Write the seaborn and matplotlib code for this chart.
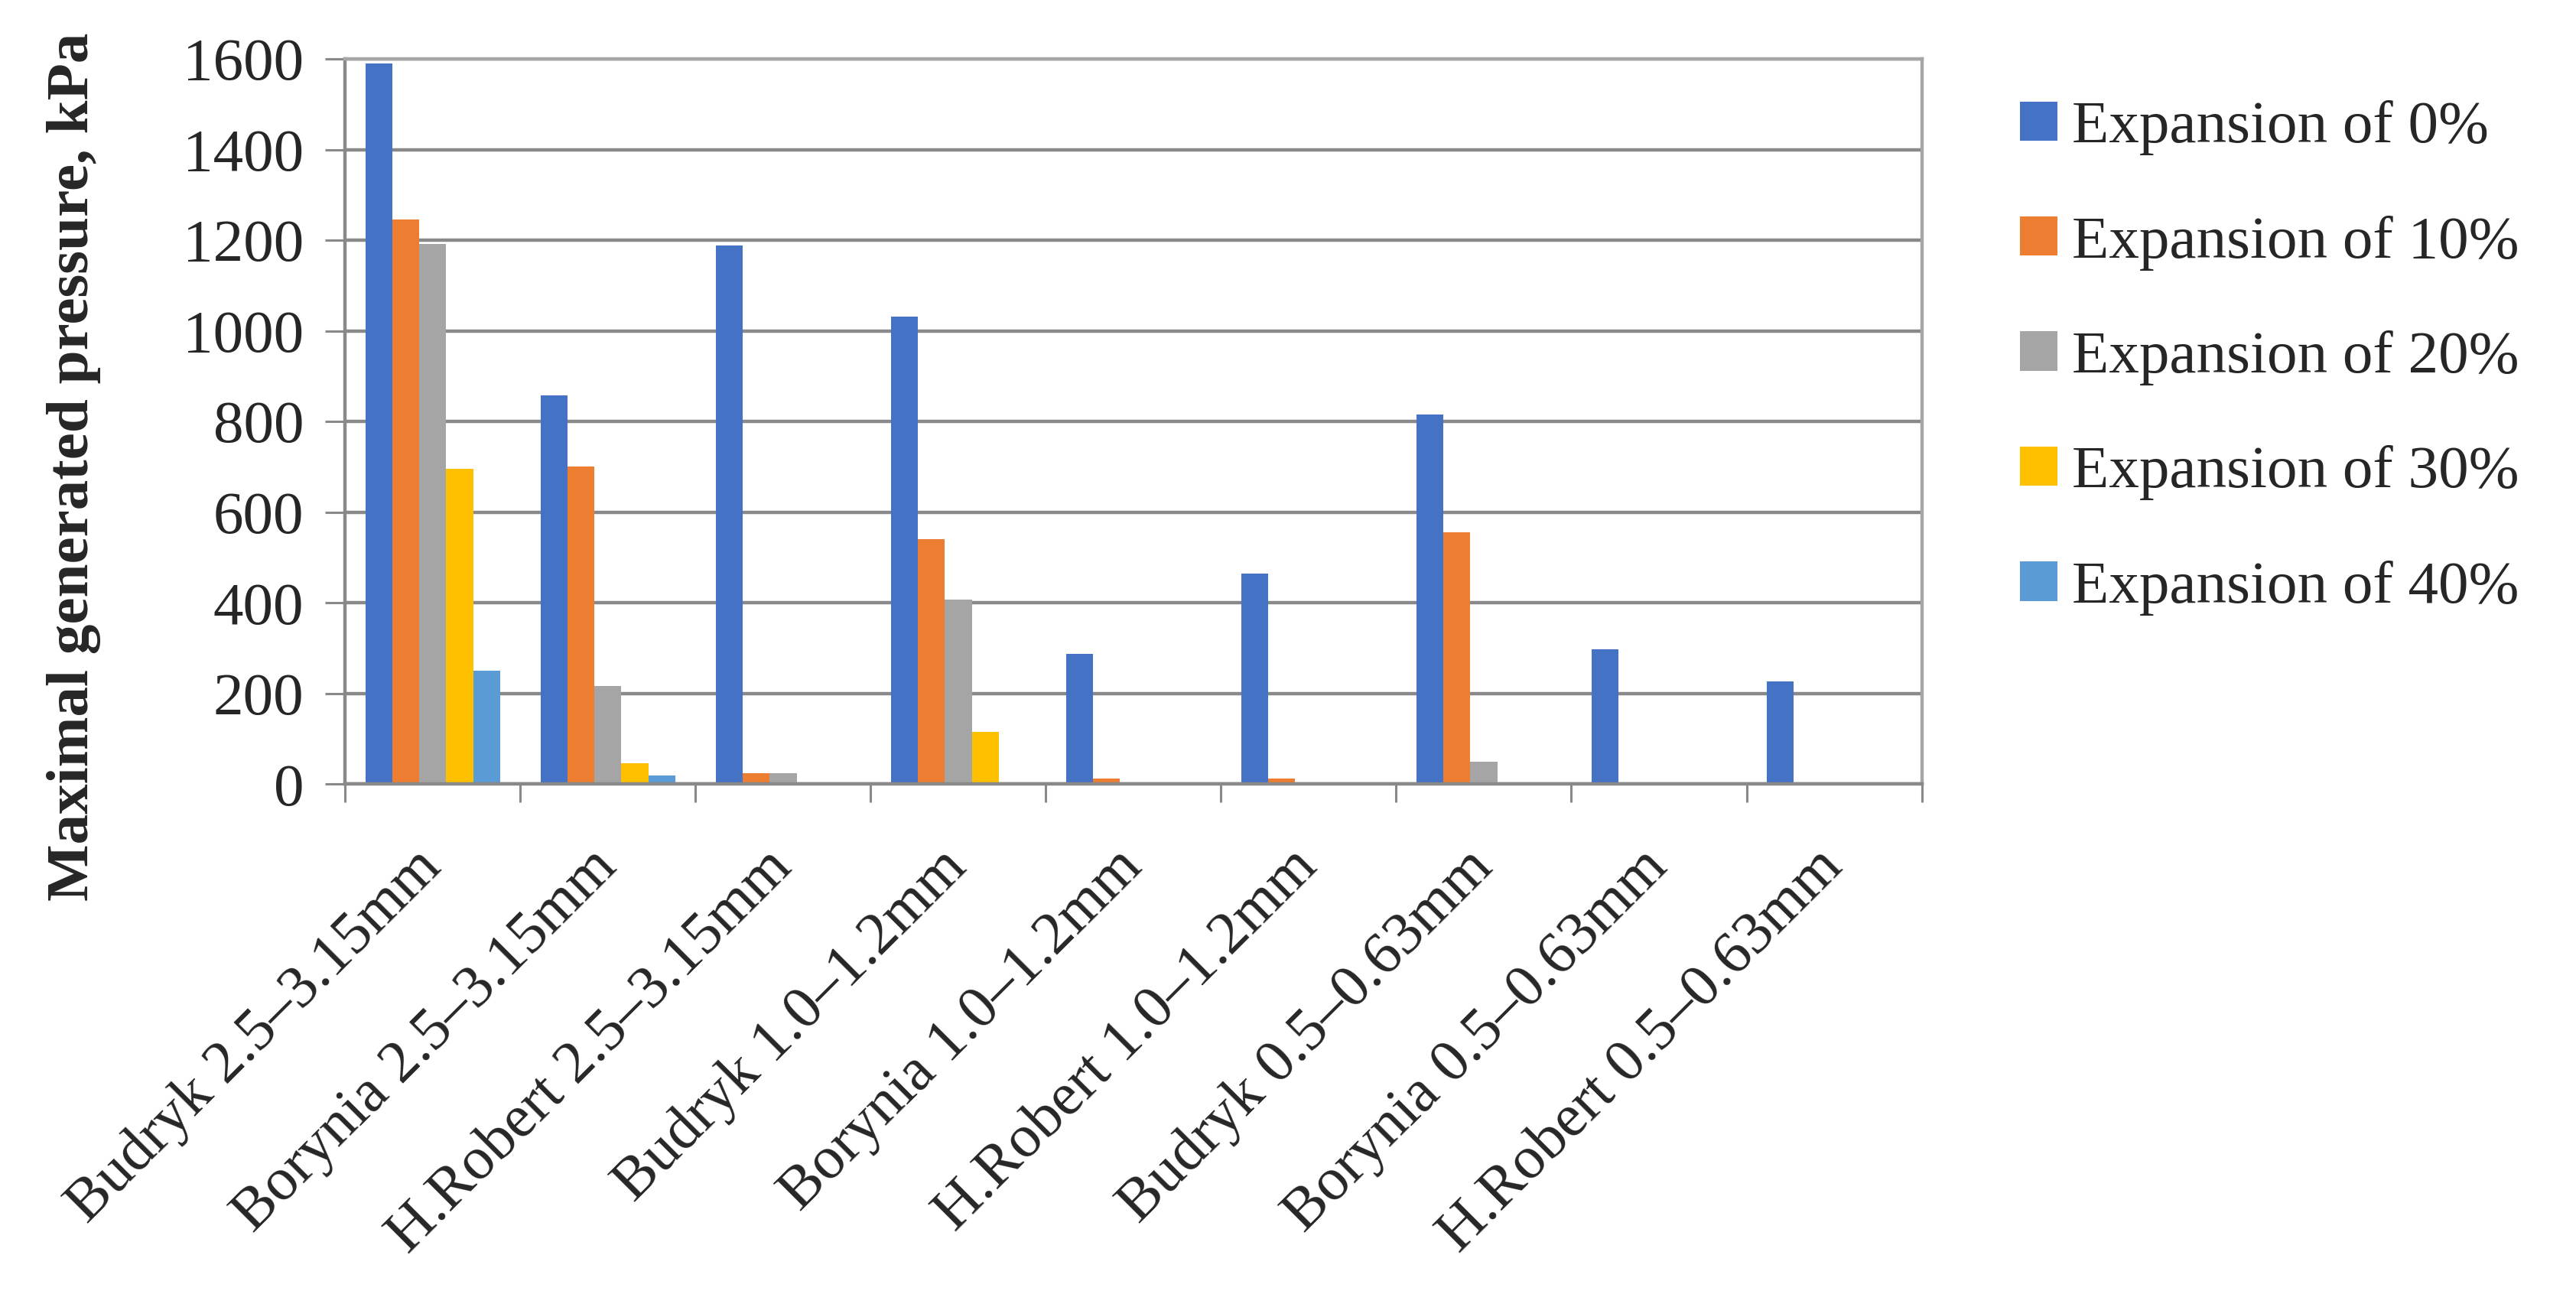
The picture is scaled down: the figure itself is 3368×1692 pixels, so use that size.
import matplotlib
matplotlib.use("Agg")
import matplotlib.pyplot as plt
import seaborn as sns
import numpy as np
import pandas as pd

# sample names (x axis categories)
samples = ["Budryk 2.5–3.15mm", "Borynia 2.5–3.15mm", "H.Robert 2.5–3.15mm",
           "Budryk 1.0–1.2mm", "Borynia 1.0–1.2mm", "H.Robert 1.0–1.2mm",
           "Budryk 0.5–0.63mm", "Borynia 0.5–0.63mm", "H.Robert 0.5–0.63mm"]

# maximal generated pressure, kPa
exp_0 = [1590, 858, 1189, 1031, 287, 465, 815, 297, 227]
exp_10 = [1245, 700, 25, 540, 13, 13, 555, 0, 0]
exp_20 = [1191, 217, 24, 408, 0, 0, 49, 0, 0]
exp_30 = [695, 46, 0, 115, 0, 0, 0, 0, 0]
exp_40 = [251, 19, 0, 0, 0, 0, 0, 0, 0]

series_names = ["Expansion of 0%", "Expansion of 10%", "Expansion of 20%",
                "Expansion of 30%", "Expansion of 40%"]
series_values = [exp_0, exp_10, exp_20, exp_30, exp_40]
colors = ["#4472C4", "#ED7D31", "#A5A5A5", "#FFC000", "#5B9BD5"]
y_ticks = [0, 200, 400, 600, 800, 1000, 1200, 1400, 1600]

# long format table for seaborn
rows = []
for name, vals in zip(series_names, series_values):
    for s, v in zip(samples, vals):
        rows.append({"sample": s, "pressure": v, "series": name})
df = pd.DataFrame(rows)

sns.set_style("white")
plt.rcParams["font.family"] = ["Liberation Serif", "DejaVu Serif"]

fs = 57
grid_col = "#898989"

fig = plt.figure(figsize=(33.68, 16.92), dpi=100)
ax = fig.add_axes([0.134, 0.394, 0.612, 0.5605])

sns.barplot(data=df, x="sample", y="pressure", hue="series", order=samples,
            hue_order=series_names, palette=colors, width=0.77, saturation=1,
            linewidth=0, ax=ax)

ax.set_ylim(0, 1600)
ax.set_xlim(-0.5, len(samples) - 0.5)
ax.set_yticks(y_ticks)
ax.yaxis.grid(True, color=grid_col, linewidth=3.2)
ax.set_axisbelow(True)

for side in ["left", "bottom"]:
    ax.spines[side].set_color(grid_col)
    ax.spines[side].set_linewidth(3.2)
for side in ["top", "right"]:
    ax.spines[side].set_color("#A6A6A6")
    ax.spines[side].set_linewidth(3.2)

ax.tick_params(axis="y", length=19, width=2.2, color=grid_col, pad=20,
               labelsize=fs, left=True)
ax.set_xticks(range(len(samples)))
ax.set_xticklabels(samples, rotation=45, ha="right", va="center",
                   rotation_mode="anchor")
ax.tick_params(axis="x", which="major", length=0, pad=70, labelsize=fs)
ax.set_xticks(np.arange(len(samples) + 1) - 0.5, minor=True)
ax.tick_params(axis="x", which="minor", length=17, width=2.2, color=grid_col,
               bottom=True)

ax.set_xlabel("")
ax.set_ylabel("Maximal generated pressure, kPa", fontsize=fs,
              fontweight="bold", va="center")
ax.yaxis.set_label_coords(-0.172, 0.438)

handles, labels = ax.get_legend_handles_labels()
ax.get_legend().remove()
fig.legend(handles, labels, loc="upper left", bbox_to_anchor=(0.784, 0.9225),
           frameon=False, fontsize=fs, handlelength=0.62, handleheight=0.62,
           handletextpad=0.25, labelspacing=0.99, borderpad=0,
           borderaxespad=0)

fig.savefig("out.png", dpi=100)
